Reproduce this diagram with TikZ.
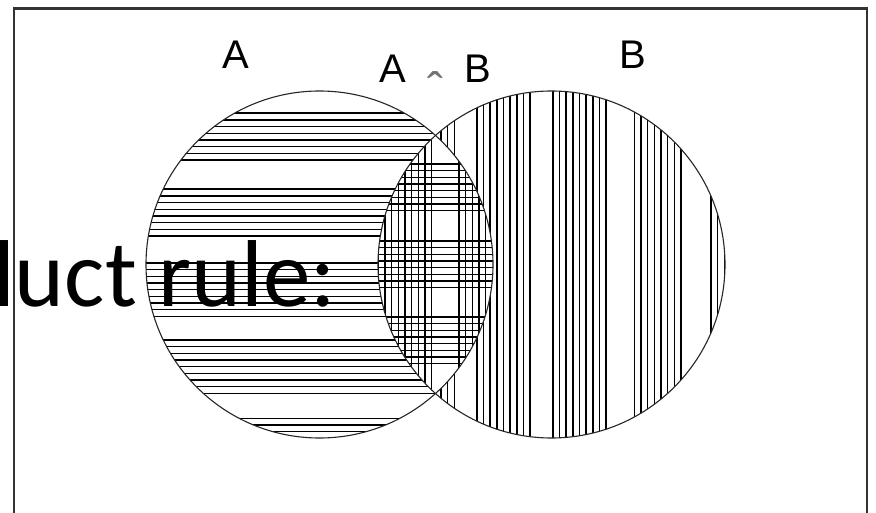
\documentclass[tikz,border=0pt]{standalone}
\usepackage{fontspec}
\setmainfont{Liberation Sans}
\newfontfamily\calib{Carlito}
\begin{document}
\begin{tikzpicture}[x=1pt,y=-1pt,
  hatch/.style={line width=1.6pt, black},
  ring/.style={line width=1.1pt, black!85},
  frame/.style={line width=2.2pt, black!80},
  lbl/.style={inner sep=0pt, font=\fontsize{40}{40}\selectfont},
  caretlbl/.style={inner sep=0pt, text=black!55, font=\fontsize{48}{48}\selectfont},
  title/.style={inner sep=0pt, anchor=base west, font=\calib\fontsize{95}{95}\selectfont}]
\useasboundingbox (0,0) rectangle (876,513);
\fill[white] (0,0) rectangle (876,513);
\coordinate (cA) at (319.5,264.5);
\coordinate (cB) at (551.5,264.5);
% left circle: horizontal hatch
\begin{scope}
  \clip (cA) circle[radius=173.5pt];
  \foreach \b/\n in {113.3/7, 189.3/7, 263/8, 340/8, 418.3/3}
    \foreach \k in {0,...,\n}
      \draw[hatch] (130,{\b+\k*6.67}) -- (510,{\b+\k*6.67});
\end{scope}
% right circle: vertical hatch
\begin{scope}
  \clip (cB) circle[radius=173.5pt];
  \foreach \b/\n in {401/8, 476.7/8, 552.7/8, 634.3/7, 711/2}
    \foreach \k in {0,...,\n}
      \draw[hatch] ({\b+\k*6.67},80) -- ({\b+\k*6.67},450);
\end{scope}
% lens: cross hatch
\begin{scope}
  \clip (cA) circle[radius=173.5pt];
  \clip (cB) circle[radius=173.5pt];
  \fill[white] (370,120) rectangle (500,410);
  \foreach \b/\n in {164/7, 241/7, 317/7}
    \foreach \k in {0,...,\n}
      \draw[hatch] (370,{\b+\k*6.67}) -- (500,{\b+\k*6.67});
  \foreach \b/\n in {378.3/8, 459/4}
    \foreach \k in {0,...,\n}
      \draw[hatch] ({\b+\k*6.67},120) -- ({\b+\k*6.67},410);
\end{scope}
\draw[ring] (cA) circle[radius=173.5pt];
\draw[ring] (cB) circle[radius=173.5pt];
% frame
\draw[frame] (14,530) -- (14,8.5) -- (867,8.5) -- (867,530);
% labels
\node[lbl] (labA) at (236,55) {A};
\node[lbl] (labB) at (632.5,55) {B};
\node[lbl] (labAi) at (393,68.5) {A};
\node[caretlbl, anchor=base] (caret) at (435,107) {ˆ};
\node[lbl] (labBi) at (477.5,69) {B};
\node[title] (ttl) at (-7,307) {luct rule:};
\end{tikzpicture}
\end{document}
